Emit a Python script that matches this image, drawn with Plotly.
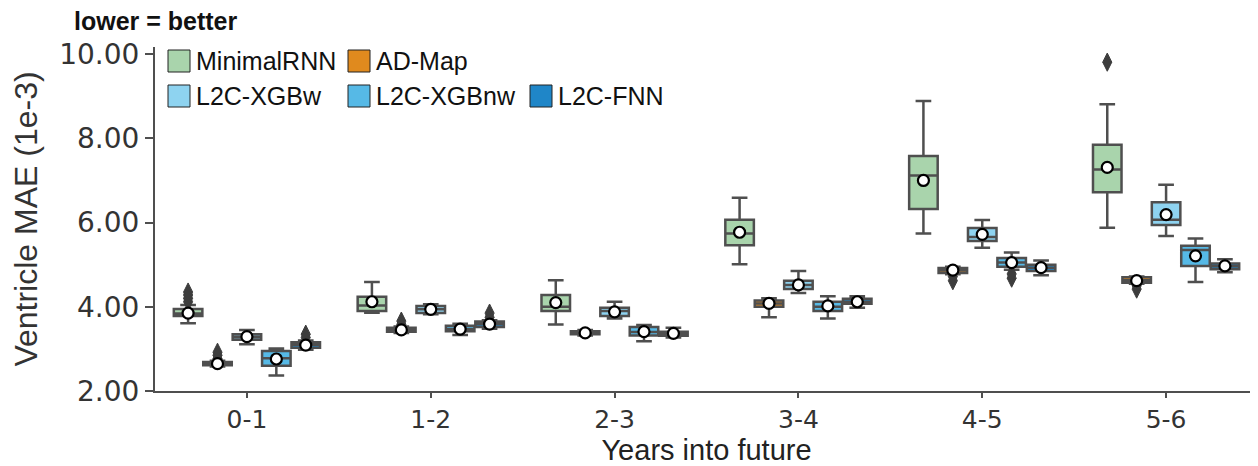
import plotly.graph_objects as go

groups = ["0-1", "1-2", "2-3", "3-4", "4-5", "5-6"]
models = ["MinimalRNN", "AD-Map", "L2C-XGBw", "L2C-XGBnw", "L2C-FNN"]
colors = ["#a9d4ac", "#e08a1e", "#8ed3f0", "#56b9e6", "#1f86c8"]

q1 = {
    "MinimalRNN": [3.78, 3.90, 3.90, 5.46, 6.32, 6.72],
    "AD-Map":     [2.61, 3.41, 3.35, 4.00, 4.80, 4.57],
    "L2C-XGBw":   [3.22, 3.85, 3.78, 4.42, 5.56, 5.94],
    "L2C-XGBnw":  [2.60, 3.42, 3.32, 3.90, 4.95, 4.97],
    "L2C-FNN":    [3.03, 3.52, 3.31, 4.07, 4.85, 4.89],
}
median = {
    "MinimalRNN": [3.84, 4.03, 4.00, 5.74, 7.12, 7.26],
    "AD-Map":     [2.65, 3.45, 3.38, 4.08, 4.87, 4.63],
    "L2C-XGBw":   [3.28, 3.94, 3.90, 4.52, 5.66, 6.07],
    "L2C-XGBnw":  [2.78, 3.47, 3.40, 4.00, 5.05, 5.35],
    "L2C-FNN":    [3.10, 3.59, 3.37, 4.12, 4.93, 4.96],
}
q3 = {
    "MinimalRNN": [3.95, 4.24, 4.28, 6.07, 7.58, 7.85],
    "AD-Map":     [2.69, 3.50, 3.42, 4.15, 4.92, 4.70],
    "L2C-XGBw":   [3.35, 4.02, 3.98, 4.62, 5.87, 6.48],
    "L2C-XGBnw":  [2.95, 3.55, 3.52, 4.12, 5.16, 5.45],
    "L2C-FNN":    [3.16, 3.65, 3.41, 4.19, 5.00, 5.03],
}
lower = {
    "MinimalRNN": [3.61, 3.86, 3.58, 5.01, 5.74, 5.88],
    "AD-Map":     [2.58, 3.38, 3.32, 3.75, 4.77, 4.55],
    "L2C-XGBw":   [3.11, 3.82, 3.72, 4.33, 5.40, 5.68],
    "L2C-XGBnw":  [2.37, 3.33, 3.18, 3.72, 4.88, 4.59],
    "L2C-FNN":    [2.98, 3.48, 3.27, 3.98, 4.75, 4.82],
}
upper = {
    "MinimalRNN": [4.04, 4.59, 4.63, 6.59, 8.89, 8.81],
    "AD-Map":     [2.72, 3.53, 3.45, 4.20, 4.95, 4.72],
    "L2C-XGBw":   [3.45, 4.06, 4.12, 4.85, 6.06, 6.90],
    "L2C-XGBnw":  [3.01, 3.60, 3.57, 4.25, 5.29, 5.62],
    "L2C-FNN":    [3.20, 3.68, 3.50, 4.25, 5.10, 5.13],
}
mean = {
    "MinimalRNN": [3.85, 4.12, 4.10, 5.77, 7.00, 7.31],
    "AD-Map":     [2.65, 3.45, 3.38, 4.08, 4.87, 4.62],
    "L2C-XGBw":   [3.29, 3.94, 3.88, 4.52, 5.72, 6.19],
    "L2C-XGBnw":  [2.76, 3.47, 3.41, 4.02, 5.05, 5.21],
    "L2C-FNN":    [3.09, 3.59, 3.37, 4.12, 4.93, 4.97],
}
# outliers: (group label, value)
outliers = {
    "MinimalRNN": [("0-1", 4.12), ("0-1", 4.20), ("0-1", 4.28), ("0-1", 4.35), ("5-6", 9.81)],
    "AD-Map":     [("0-1", 2.77), ("0-1", 2.85), ("0-1", 2.92), ("1-2", 3.58), ("1-2", 3.66),
                   ("4-5", 4.62), ("4-5", 4.72), ("5-6", 4.42), ("5-6", 4.50)],
    "L2C-XGBw":   [],
    "L2C-XGBnw":  [("4-5", 4.68), ("4-5", 4.78)],
    "L2C-FNN":    [("0-1", 3.27), ("0-1", 3.35), ("1-2", 3.75), ("1-2", 3.85)],
}
y_ticks = [2, 4, 6, 8, 10]

EDGE = "#4f4f4f"
BOXW = 0.8 / len(models)

fig = go.Figure()
n = len(models)
for j, m in enumerate(models):
    off = (j - (n - 1) / 2) * BOXW
    xs = [i + off for i in range(len(groups))]
    fig.add_trace(go.Box(
        x=xs, q1=q1[m], median=median[m], q3=q3[m],
        lowerfence=lower[m], upperfence=upper[m],
        width=BOXW * 0.97, whiskerwidth=0.55,
        fillcolor=colors[j], line=dict(color=EDGE, width=2.5),
        boxpoints=False, name=m, showlegend=False, hoverinfo="skip",
    ))
    if outliers[m]:
        ox = [groups.index(g) + off for g, v in outliers[m]]
        oy = [v for g, v in outliers[m]]
        fig.add_trace(go.Scatter(
            x=ox, y=oy, mode="markers", showlegend=False, hoverinfo="skip",
            marker=dict(symbol="diamond-tall", size=13, color="#3d3d3d",
                        line=dict(color="#3d3d3d", width=1)),
        ))
    fig.add_trace(go.Scatter(
        x=xs, y=mean[m], mode="markers", showlegend=False, hoverinfo="skip",
        marker=dict(symbol="circle", size=11, color="white",
                    line=dict(color="black", width=2.2)),
    ))

# The page body adds an 8px margin, so the figure is 8px smaller than the window
OFF = 8
W, H = 1258 - OFF, 466 - OFF
L, R, T = 155 - OFF, 0, 47 - OFF
B = H - (391 - OFF)
pw, ph = W - L - R, H - T - B


def px(xp):  # page pixel -> paper x
    return (xp - OFF - L) / pw


def py(yp):  # page pixel -> paper y
    return (H - B - (yp - OFF)) / ph


leg_cols = [168, 348, 530]
leg_rows = [61, 96]
leg_pos = [(0, 0), (0, 1), (1, 0), (1, 1), (1, 2)]
shapes = []
annots = []
sw = 22
for j, m in enumerate(models):
    r, c = leg_pos[j]
    x0 = leg_cols[c]
    yc = leg_rows[r]
    shapes.append(dict(type="rect", xref="paper", yref="paper",
                       x0=px(x0), x1=px(x0 + sw), y0=py(yc + sw / 2), y1=py(yc - sw / 2),
                       fillcolor=colors[j], line=dict(color="#222222", width=1)))
    annots.append(dict(xref="paper", yref="paper", x=px(x0 + sw + 4), y=py(yc),
                       xanchor="left", yanchor="middle", text=m, showarrow=False,
                       font=dict(family="Liberation Sans, Arial", size=25, color="#111111")))

annots.append(dict(xref="paper", yref="paper", x=px(72), y=py(21), xanchor="left",
                   yanchor="middle", text="<b>lower = better</b>", showarrow=False,
                   font=dict(family="Liberation Sans, Arial", size=25, color="#111111")))

fig.update_layout(
    width=W, height=H,
    margin=dict(l=L, r=R, t=T, b=B, autoexpand=False),
    plot_bgcolor="white", paper_bgcolor="white",
    shapes=shapes, annotations=annots,
    xaxis=dict(
        range=[-0.5, 5.5], tickvals=list(range(len(groups))), ticktext=groups,
        showgrid=False, zeroline=False, showline=True, linecolor=EDGE, linewidth=2,
        ticks="outside", ticklen=5, tickwidth=2, tickcolor=EDGE,
        tickfont=dict(family="DejaVu Sans", size=25, color="#333333"),
        title=dict(text="Years into future", standoff=8,
                   font=dict(family="Liberation Sans, Arial", size=29, color="#222222")),
    ),
    yaxis=dict(
        range=[2.0, 10.17], tickvals=y_ticks, tickformat=".2f",
        showgrid=False, zeroline=False, showline=True, linecolor=EDGE, linewidth=2,
        ticks="outside", ticklen=8, tickwidth=2, tickcolor=EDGE,
        tickfont=dict(family="DejaVu Sans", size=28, color="#333333"),
        title=dict(text="Ventricle MAE (1e-3)", standoff=14,
                   font=dict(family="Liberation Sans, Arial", size=32, color="#333333")),
    ),
)

fig.write_html("out.html")
